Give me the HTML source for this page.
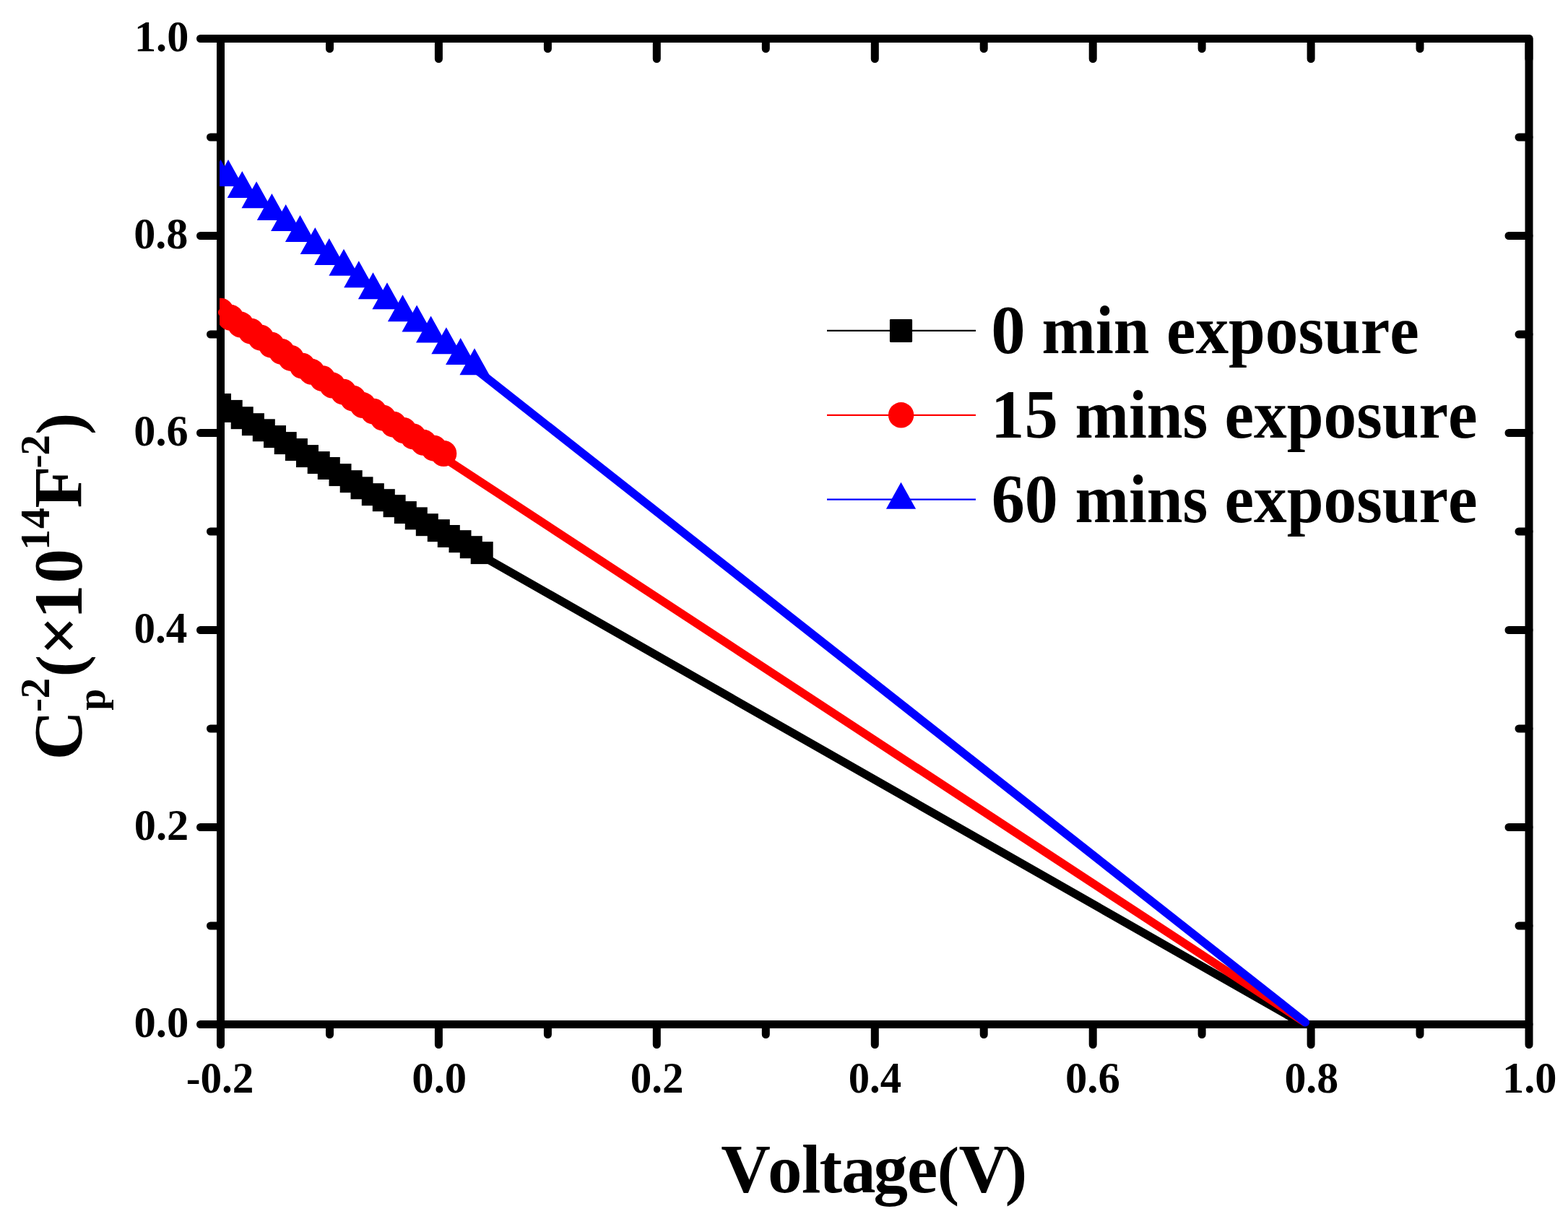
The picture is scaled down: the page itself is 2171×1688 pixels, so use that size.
<!DOCTYPE html>
<html><head><meta charset="utf-8"><title>C-V plot</title><style>html,body{margin:0;padding:0;background:#fff;}svg{display:block;}</style></head><body>
<svg width="2171" height="1688" viewBox="0 0 2171 1688">
<rect x="0" y="0" width="2171" height="1688" fill="#fff"/>
<defs><clipPath id="clip"><rect x="304" y="40" width="1830" height="1400"/></clipPath></defs>
<g stroke="#000" stroke-width="11" fill="none">
<rect x="305.5" y="53.5" width="1811.5" height="1365.0" stroke-linejoin="round"/>
</g>
<g stroke="#000" stroke-width="11" stroke-linecap="round">
<path d="M305.5 1418.5V1446.5M305.5 53.5V81.5M456.5 1418.5V1432.5M456.5 53.5V67.5M607.4 1418.5V1446.5M607.4 53.5V81.5M758.4 1418.5V1432.5M758.4 53.5V67.5M909.3 1418.5V1446.5M909.3 53.5V81.5M1060.3 1418.5V1432.5M1060.3 53.5V67.5M1211.3 1418.5V1446.5M1211.3 53.5V81.5M1362.2 1418.5V1432.5M1362.2 53.5V67.5M1513.2 1418.5V1446.5M1513.2 53.5V81.5M1664.1 1418.5V1432.5M1664.1 53.5V67.5M1815.1 1418.5V1446.5M1815.1 53.5V81.5M1966.0 1418.5V1432.5M1966.0 53.5V67.5M2117.0 1418.5V1446.5M2117.0 53.5V81.5M305.5 1418.5H277.5M2117.0 1418.5H2089.0M305.5 1282.0H291.5M2117.0 1282.0H2103.0M305.5 1145.5H277.5M2117.0 1145.5H2089.0M305.5 1009.0H291.5M2117.0 1009.0H2103.0M305.5 872.5H277.5M2117.0 872.5H2089.0M305.5 736.0H291.5M2117.0 736.0H2103.0M305.5 599.5H277.5M2117.0 599.5H2089.0M305.5 463.0H291.5M2117.0 463.0H2103.0M305.5 326.5H277.5M2117.0 326.5H2089.0M305.5 190.0H291.5M2117.0 190.0H2103.0M305.5 53.5H277.5M2117.0 53.5H2089.0"/>
</g>
<g style="font-family:'Liberation Serif','Times New Roman',serif;font-weight:bold;font-size:61px;font-kerning:none" fill="#000">
<text x="257.63" y="1512.8" textLength="93.92" lengthAdjust="spacingAndGlyphs">-0.2</text>
<text x="570.29" y="1512.8" textLength="75.93" lengthAdjust="spacingAndGlyphs">0.0</text>
<text x="872.75" y="1512.8" textLength="73.89" lengthAdjust="spacingAndGlyphs">0.2</text>
<text x="1174.77" y="1512.8" textLength="73.32" lengthAdjust="spacingAndGlyphs">0.4</text>
<text x="1474.99" y="1512.8" textLength="75.89" lengthAdjust="spacingAndGlyphs">0.6</text>
<text x="1778.42" y="1512.8" textLength="74.87" lengthAdjust="spacingAndGlyphs">0.8</text>
<text x="2080.06" y="1512.8" textLength="75.54" lengthAdjust="spacingAndGlyphs">1.0</text>
<text x="185.49" y="1436.0" textLength="75.82" lengthAdjust="spacingAndGlyphs">0.0</text>
<text x="185.70" y="1163.0" textLength="75.50" lengthAdjust="spacingAndGlyphs">0.2</text>
<text x="185.55" y="890.0" textLength="73.85" lengthAdjust="spacingAndGlyphs">0.4</text>
<text x="185.31" y="617.0" textLength="75.26" lengthAdjust="spacingAndGlyphs">0.6</text>
<text x="185.21" y="344.0" textLength="75.19" lengthAdjust="spacingAndGlyphs">0.8</text>
<text x="185.97" y="71.0" textLength="75.32" lengthAdjust="spacingAndGlyphs">1.0</text>
</g>
<g fill="none" stroke-width="11.5" stroke-linecap="round">
<path d="M667.2 769.70L1804 1417.68" stroke="#000"/>
<path d="M307.6 432.62L1806 1415.20" stroke="#f00"/>
<path d="M657 509.95L1807.3 1415.65" stroke="#00f"/>
</g>
<g clip-path="url(#clip)">
<g fill="#000">
<rect x="289.0" y="544.9" width="31" height="31"/>
<rect x="304.7" y="553.9" width="31" height="31"/>
<rect x="319.7" y="563.2" width="31" height="31"/>
<rect x="334.9" y="572.2" width="31" height="31"/>
<rect x="349.8" y="580.3" width="31" height="31"/>
<rect x="365.0" y="589.1" width="31" height="31"/>
<rect x="379.7" y="598.1" width="31" height="31"/>
<rect x="394.9" y="607.1" width="31" height="31"/>
<rect x="410.0" y="616.1" width="31" height="31"/>
<rect x="425.7" y="625.1" width="31" height="31"/>
<rect x="439.8" y="633.0" width="31" height="31"/>
<rect x="455.5" y="642.1" width="31" height="31"/>
<rect x="470.7" y="651.2" width="31" height="31"/>
<rect x="485.5" y="660.3" width="31" height="31"/>
<rect x="500.8" y="669.2" width="31" height="31"/>
<rect x="515.8" y="677.2" width="31" height="31"/>
<rect x="530.6" y="685.2" width="31" height="31"/>
<rect x="545.8" y="694.1" width="31" height="31"/>
<rect x="560.8" y="702.4" width="31" height="31"/>
<rect x="575.8" y="711.2" width="31" height="31"/>
<rect x="591.8" y="719.2" width="31" height="31"/>
<rect x="605.8" y="727.0" width="31" height="31"/>
<rect x="621.5" y="734.2" width="31" height="31"/>
<rect x="636.8" y="742.2" width="31" height="31"/>
<rect x="651.7" y="750.1" width="31" height="31"/>
</g>
<g fill="#f00">
<circle cx="305.5" cy="430.7" r="18"/>
<circle cx="319.2" cy="439.8" r="18"/>
<circle cx="333.3" cy="449.6" r="18"/>
<circle cx="347.6" cy="458.7" r="18"/>
<circle cx="361.2" cy="467.7" r="18"/>
<circle cx="375.8" cy="477.7" r="18"/>
<circle cx="389.9" cy="486.9" r="18"/>
<circle cx="403.0" cy="495.9" r="18"/>
<circle cx="418.6" cy="506.7" r="18"/>
<circle cx="431.5" cy="514.8" r="18"/>
<circle cx="446.5" cy="524.2" r="18"/>
<circle cx="460.2" cy="533.6" r="18"/>
<circle cx="475.5" cy="542.7" r="18"/>
<circle cx="488.8" cy="551.7" r="18"/>
<circle cx="502.3" cy="561.1" r="18"/>
<circle cx="517.2" cy="569.7" r="18"/>
<circle cx="530.4" cy="578.7" r="18"/>
<circle cx="544.8" cy="587.7" r="18"/>
<circle cx="558.8" cy="596.0" r="18"/>
<circle cx="572.1" cy="604.4" r="18"/>
<circle cx="586.4" cy="612.8" r="18"/>
<circle cx="600.8" cy="620.7" r="18"/>
<circle cx="614.3" cy="628.0" r="18"/>
</g>
<g fill="#00f">
<path d="M305.5 221.1L326.1 258.1H284.9Z"/>
<path d="M316.0 221.1L336.6 258.1H295.4Z"/>
<path d="M335.3 237.0L355.9 274.0H314.7Z"/>
<path d="M355.1 251.2L375.7 288.2H334.5Z"/>
<path d="M376.4 268.1L397.0 305.1H355.8Z"/>
<path d="M395.7 282.9L416.3 319.9H375.1Z"/>
<path d="M415.5 298.1L436.1 335.1H394.9Z"/>
<path d="M436.3 314.9L456.9 351.9H415.7Z"/>
<path d="M455.8 330.1L476.4 367.1H435.2Z"/>
<path d="M476.0 344.8L496.6 381.8H455.4Z"/>
<path d="M496.8 361.2L517.4 398.2H476.2Z"/>
<path d="M516.5 377.2L537.1 414.2H495.9Z"/>
<path d="M536.0 391.3L556.6 428.3H515.4Z"/>
<path d="M557.5 408.2L578.1 445.2H536.9Z"/>
<path d="M577.1 422.5L597.7 459.5H556.5Z"/>
<path d="M596.6 437.5L617.2 474.5H576.0Z"/>
<path d="M617.9 453.2L638.5 490.2H597.3Z"/>
<path d="M637.7 468.1L658.3 505.1H617.1Z"/>
<path d="M657.0 482.2L677.6 519.2H636.4Z"/>
</g>
</g>
<g stroke-width="2.2">
<path d="M1145 457.8H1351" stroke="#000"/>
<path d="M1145 574.9H1351" stroke="#f00"/>
<path d="M1145 691.7H1351" stroke="#00f"/>
</g>
<rect x="1231.9" y="442.1" width="31.2" height="31.8" rx="1.3" fill="#000"/>
<circle cx="1247.6" cy="574.8" r="17.7" fill="#f00"/>
<path d="M1247.5 667.8L1268.1 704.8H1226.9Z" fill="#00f"/>
<g style="font-family:'Liberation Serif','Times New Roman',serif;font-weight:bold;font-size:95px;font-kerning:none" fill="#000">
<text y="489.0"><tspan x="1372.29" textLength="47.42" lengthAdjust="spacingAndGlyphs">0</tspan> <tspan x="1442.50" textLength="148.85" lengthAdjust="spacingAndGlyphs">min</tspan> <tspan x="1614.88" textLength="349.78" lengthAdjust="spacingAndGlyphs">exposure</tspan></text>
<text y="605.8"><tspan x="1372.08" textLength="92.61" lengthAdjust="spacingAndGlyphs">15</tspan> <tspan x="1488.50" textLength="183.78" lengthAdjust="spacingAndGlyphs">mins</tspan> <tspan x="1695.38" textLength="350.29" lengthAdjust="spacingAndGlyphs">exposure</tspan></text>
<text y="722.5"><tspan x="1372.86" textLength="91.94" lengthAdjust="spacingAndGlyphs">60</tspan> <tspan x="1488.50" textLength="183.78" lengthAdjust="spacingAndGlyphs">mins</tspan> <tspan x="1695.38" textLength="350.29" lengthAdjust="spacingAndGlyphs">exposure</tspan></text>
</g>
<text x="998.25 1063.10 1110.09 1134.48 1164.94 1209.46 1255.97 1297.76 1327.45 1391.78" y="1651" style="font-family:'Liberation Serif','Times New Roman',serif;font-weight:bold;font-size:95px;font-kerning:none" fill="#000">Voltage<tspan style="font-size:91px">(</tspan>V<tspan style="font-size:91px">)</tspan></text>
<g transform="translate(113 1052.4) rotate(-90)" style="font-family:'Liberation Serif','Times New Roman',serif;font-weight:bold;font-kerning:none" fill="#000">
<text><tspan x="-0.05" y="0" style="font-size:95px">C</tspan><tspan x="68.74" y="32.3" style="font-size:54px">p</tspan><tspan x="66.33 85.00" y="-45" style="font-size:57.5px">-2</tspan><tspan x="115.26" y="0" style="font-size:91px">(</tspan><tspan x="145.52 195.35 244.95" y="0" style="font-size:95px">×10</tspan><tspan x="290.76 320.32" y="-45" style="font-size:57.5px">14</tspan><tspan x="348.90" y="0" style="font-size:95px">F</tspan><tspan x="403.83 421.75" y="-45" style="font-size:57.5px">-2</tspan><tspan x="450.53" y="0" style="font-size:91px">)</tspan></text>
</g>
</svg>
</body></html>
